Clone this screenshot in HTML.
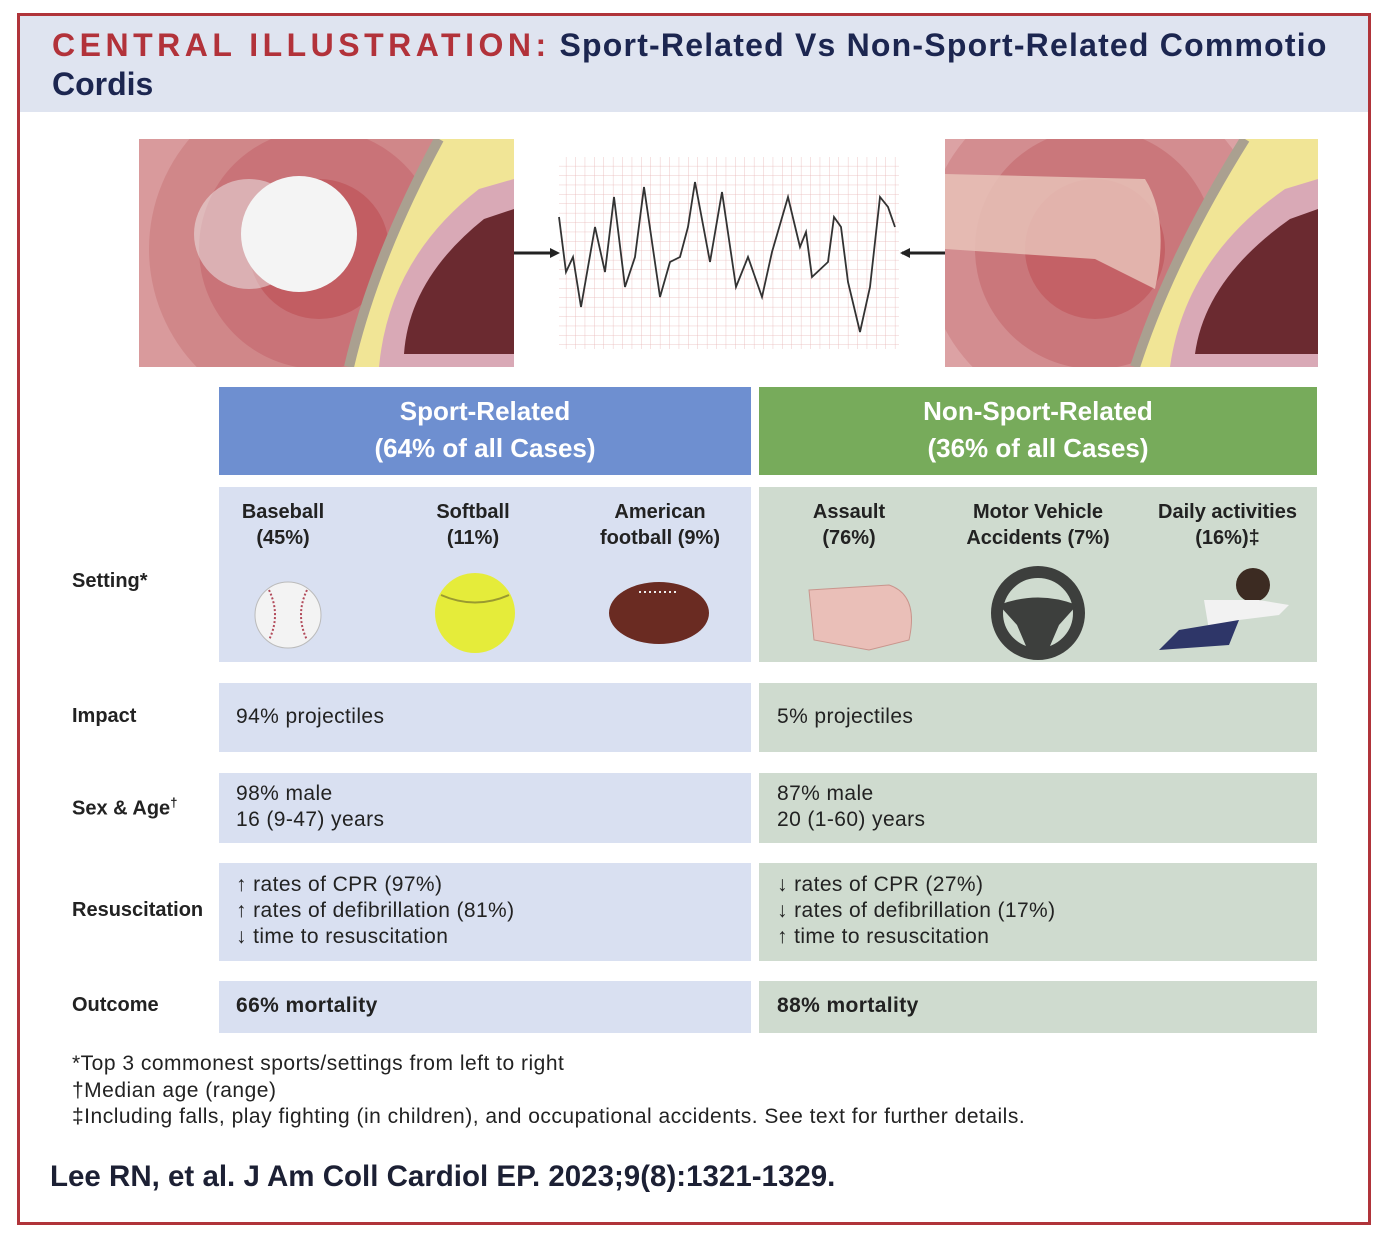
<!DOCTYPE html>
<html><head><meta charset="utf-8">
<style>
*{margin:0;padding:0;box-sizing:border-box}
body{width:1390px;height:1242px;background:#fff;position:relative;overflow:hidden;font-family:"Liberation Sans","DejaVu Sans",sans-serif;color:#1a1a1a}
.a{position:absolute}
.b{font-weight:bold}
.lbl{position:absolute;left:72px;font-size:20px;font-weight:bold;color:#222}
.cell{position:absolute;font-size:21px;letter-spacing:0.4px;color:#222;line-height:26px}
.hd{position:absolute;color:#fff;font-size:26px;text-align:center;line-height:37px;font-weight:bold}
.st{position:absolute;text-align:center;font-size:20px;font-weight:bold;line-height:26px;color:#222}
</style></head><body>
<div class="a" style="left:17px;top:13px;width:1354px;height:1212px;border:3px solid #b0343a"></div>
<div class="a" style="left:20px;top:16px;width:1348px;height:96px;background:#dfe4f0"></div>
<div class="a b" style="left:52px;top:26px;font-size:32px;line-height:39px;color:#1c2650;width:1310px;white-space:nowrap">
<span style="color:#b2323a;letter-spacing:4.5px">CENTRAL ILLUSTRATION:</span> <span style="letter-spacing:1.2px">Sport-Related Vs Non-Sport-Related Commotio</span><br>Cordis</div>

<!-- left image -->
<svg class="a" style="left:139px;top:139px" width="375" height="228">
<rect width="375" height="228" fill="#d99a9c"/>
<circle cx="180" cy="110" r="170" fill="#d08789"/>
<circle cx="180" cy="110" r="120" fill="#c97378"/>
<circle cx="180" cy="110" r="70" fill="#c25d62"/>
<ellipse cx="110" cy="95" rx="55" ry="55" fill="#eee" opacity="0.5"/>
<circle cx="160" cy="95" r="58" fill="#f4f4f4"/>
<path d="M300 0 L375 0 L375 228 L210 228 Q240 120 300 0Z" fill="#f1e596"/>
<path d="M300 0 Q235 120 210 228" stroke="#aaa090" stroke-width="10" fill="none"/>
<path d="M340 50 L375 40 L375 228 L240 228 Q250 120 340 50Z" fill="#d9a9b6"/>
<path d="M345 80 L375 70 L375 215 L265 215 Q270 140 345 80Z" fill="#6b2a30"/>
</svg>
<!-- ECG -->
<svg class="a" style="left:510px;top:157px" width="440" height="195">
<defs><pattern id="g" width="9.4" height="9.4" patternUnits="userSpaceOnUse"><path d="M9.4 0V9.4H0" fill="none" stroke="#e8b8b8" stroke-width="0.8"/></pattern></defs>
<rect x="49" y="0" width="340" height="192" fill="url(#g)"/>
<path d="M49 60 L56 115 L63 100 L71 150 L85 70 L95 115 L104 40 L115 130 L125 100 L134 30 L150 140 L160 105 L170 100 L178 70 L185 25 L200 105 L212 35 L226 130 L238 100 L252 140 L262 95 L278 40 L290 90 L296 75 L302 120 L318 105 L324 60 L331 70 L338 125 L350 175 L360 130 L370 40 L378 50 L385 70" fill="none" stroke="#333" stroke-width="1.8"/>
<path d="M4 96 L42 96" stroke="#222" stroke-width="3"/><path d="M50 96 L40 91 L40 101Z" fill="#222"/>
<path d="M392 96 L436 96" stroke="#222" stroke-width="3"/><path d="M390 96 L400 91 L400 101Z" fill="#222"/>
</svg>
<!-- right image -->
<svg class="a" style="left:945px;top:139px" width="373" height="228">
<rect width="373" height="228" fill="#dca2a4"/>
<circle cx="150" cy="110" r="170" fill="#d38d90"/>
<circle cx="150" cy="110" r="120" fill="#ca777b"/>
<circle cx="150" cy="110" r="70" fill="#c46166"/>
<path d="M0 35 L200 40 Q225 80 210 150 L150 120 L0 110Z" fill="#e8c2b8" opacity="0.85"/>
<path d="M300 0 L373 0 L373 228 L190 228 Q230 120 300 0Z" fill="#f1e596"/>
<path d="M300 0 Q225 120 190 228" stroke="#aaa090" stroke-width="10" fill="none"/>
<path d="M340 50 L373 40 L373 228 L225 228 Q240 120 340 50Z" fill="#d9a9b6"/>
<path d="M345 80 L373 70 L373 215 L250 215 Q260 140 345 80Z" fill="#6b2a30"/>
</svg>

<!-- headers -->
<div class="hd" style="left:219px;top:387px;width:532px;height:88px;background:#6e8fd0;padding-top:6px">Sport-Related<br>(64% of all Cases)</div>
<div class="hd" style="left:759px;top:387px;width:558px;height:88px;background:#77ab5b;padding-top:6px">Non-Sport-Related<br>(36% of all Cases)</div>

<!-- row backgrounds -->
<div class="a" style="left:219px;top:487px;width:532px;height:175px;background:#d9e0f1"></div>
<div class="a" style="left:759px;top:487px;width:558px;height:175px;background:#cfdbcf"></div>
<div class="a" style="left:219px;top:683px;width:532px;height:69px;background:#d9e0f1"></div>
<div class="a" style="left:759px;top:683px;width:558px;height:69px;background:#cfdbcf"></div>
<div class="a" style="left:219px;top:773px;width:532px;height:70px;background:#d9e0f1"></div>
<div class="a" style="left:759px;top:773px;width:558px;height:70px;background:#cfdbcf"></div>
<div class="a" style="left:219px;top:863px;width:532px;height:98px;background:#d9e0f1"></div>
<div class="a" style="left:759px;top:863px;width:558px;height:98px;background:#cfdbcf"></div>
<div class="a" style="left:219px;top:981px;width:532px;height:52px;background:#d9e0f1"></div>
<div class="a" style="left:759px;top:981px;width:558px;height:52px;background:#cfdbcf"></div>

<!-- setting -->
<div class="st" style="left:203px;top:499px;width:160px">Baseball<br>(45%)</div>
<div class="st" style="left:393px;top:499px;width:160px">Softball<br>(11%)</div>
<div class="st" style="left:570px;top:499px;width:180px">American<br>football (9%)</div>
<div class="st" style="left:769px;top:499px;width:160px">Assault<br>(76%)</div>
<div class="st" style="left:938px;top:499px;width:200px">Motor Vehicle<br>Accidents (7%)</div>
<div class="st" style="left:1145px;top:499px;width:165px">Daily activities<br>(16%)‡</div>

<svg class="a" style="left:219px;top:560px" width="1100" height="102">
<circle cx="69" cy="55" r="33" fill="#f3f3f3" stroke="#bbb"/>
<path d="M50 30 Q62 55 50 80 M88 30 Q76 55 88 80" stroke="#b24a5a" stroke-width="2" fill="none" stroke-dasharray="2 2"/>
<circle cx="256" cy="53" r="40" fill="#e5ec3a"/>
<path d="M222 35 Q256 50 290 35" stroke="#9a9a30" stroke-width="2" fill="none"/>
<ellipse cx="440" cy="53" rx="50" ry="31" fill="#6a2b22"/>
<path d="M420 32 L460 32" stroke="#eee" stroke-width="2" stroke-dasharray="2 3"/>
<path d="M590 30 L670 25 Q700 35 690 80 L650 90 L595 80Z" fill="#eabfb8" stroke="#c9958d"/>
<circle cx="819" cy="53" r="41" fill="none" stroke="#3d3f3d" stroke-width="12"/>
<path d="M780 45 Q819 30 858 45 L840 65 L828 93 L810 93 L798 65Z" fill="#3d3f3d"/>
<circle cx="1034" cy="25" r="17" fill="#3c2b22"/>
<path d="M985 40 L1040 40 L1070 45 L1060 55 L1020 60 L990 70Z" fill="#f2f2f2"/>
<path d="M990 65 L1020 60 L1010 85 L940 90 L960 70Z" fill="#2e3668"/>
</svg>

<!-- labels -->
<div class="lbl" style="top:570px">Setting*</div>
<div class="lbl" style="top:705px">Impact</div>
<div class="lbl" style="top:795px">Sex &amp; Age<sup style="font-size:13px">†</sup></div>
<div class="lbl" style="top:899px">Resuscitation</div>
<div class="lbl" style="top:994px">Outcome</div>

<div class="cell" style="left:236px;top:704px">94% projectiles</div>
<div class="cell" style="left:777px;top:704px">5% projectiles</div>
<div class="cell" style="left:236px;top:781px">98% male<br>16 (9-47) years</div>
<div class="cell" style="left:777px;top:781px">87% male<br>20 (1-60) years</div>
<div class="cell" style="left:236px;top:872px">↑ rates of CPR (97%)<br>↑ rates of defibrillation (81%)<br>↓ time to resuscitation</div>
<div class="cell" style="left:777px;top:872px">↓ rates of CPR (27%)<br>↓ rates of defibrillation (17%)<br>↑ time to resuscitation</div>
<div class="cell b" style="left:236px;top:993px">66% mortality</div>
<div class="cell b" style="left:777px;top:993px">88% mortality</div>

<div class="a" style="left:72px;top:1051px;font-size:21px;letter-spacing:0.5px;line-height:26.5px;color:#222;white-space:nowrap">*Top 3 commonest sports/settings from left to right<br>†Median age (range)<br>‡Including falls, play fighting (in children), and occupational accidents. See text for further details.</div>
<div class="a b" style="left:50px;top:1160px;font-size:29.5px;color:#1c2034;white-space:nowrap">Lee RN, et al. J Am Coll Cardiol EP. 2023;9(8):1321-1329.</div>
</body></html>
